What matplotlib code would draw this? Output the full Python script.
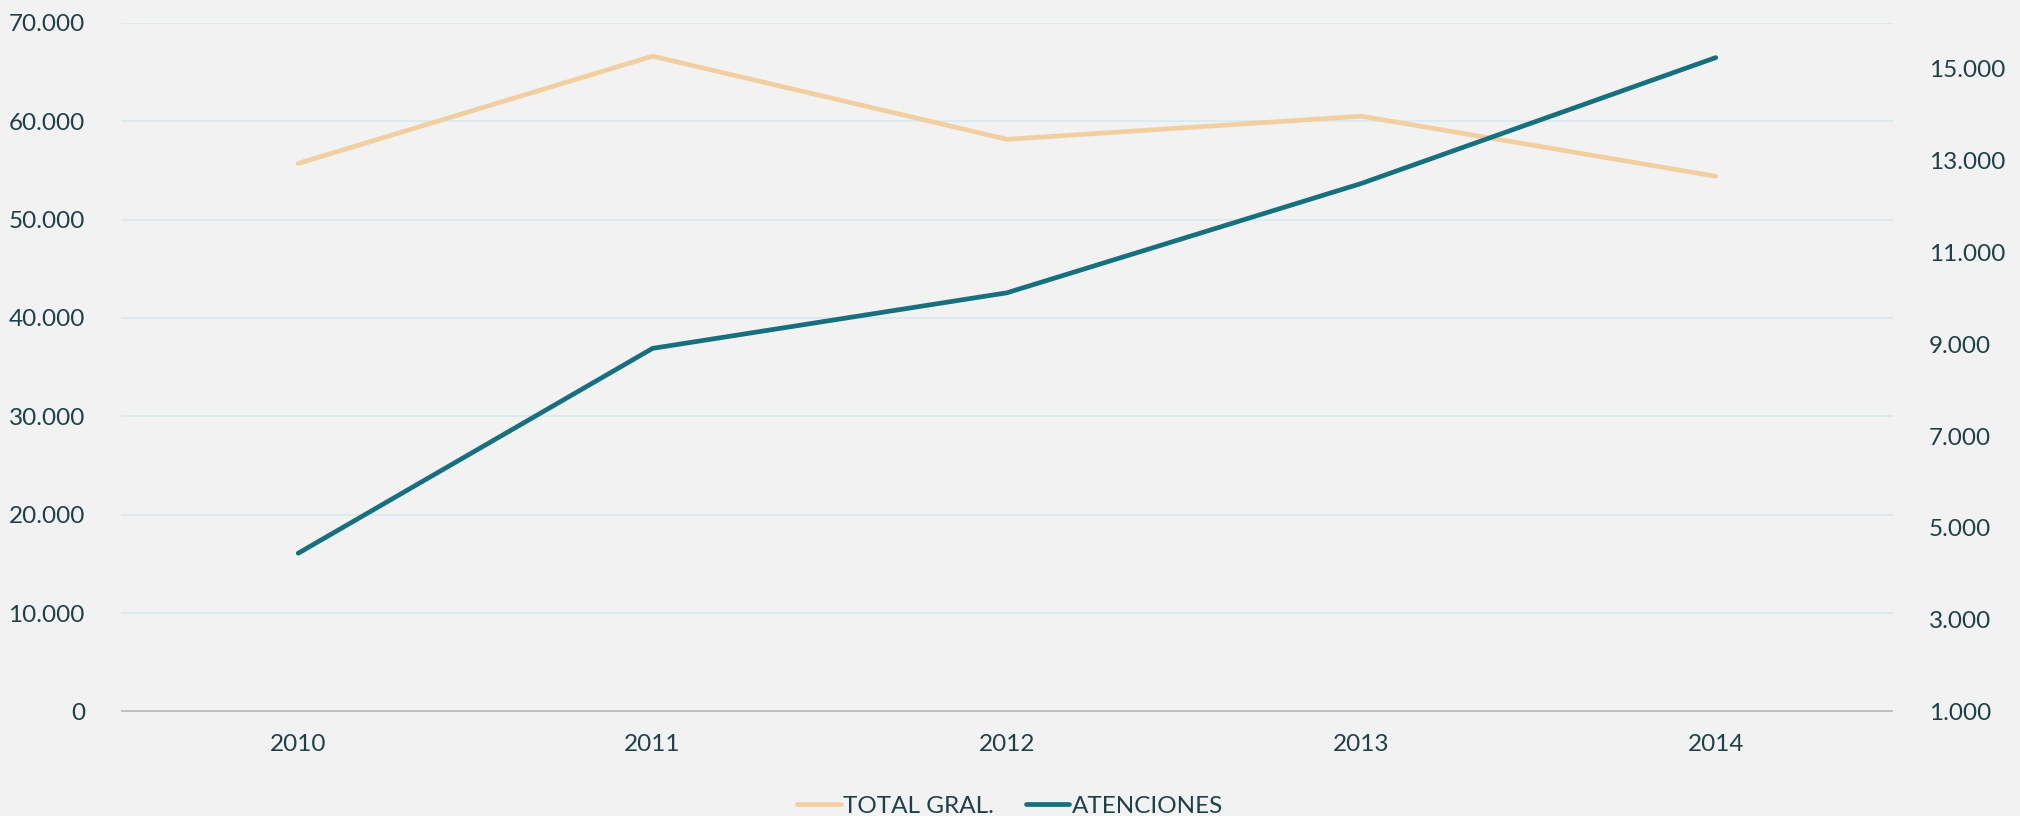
import matplotlib
matplotlib.use('Agg')
import matplotlib.pyplot as plt
from matplotlib.ticker import FuncFormatter

years = ["2010", "2011", "2012", "2013", "2014"]
total_gral = [55700, 66600, 58150, 60500, 54400]
atenciones = [4450, 8910, 10120, 12500, 15240]

left_ticks = [0, 10000, 20000, 30000, 40000, 50000, 60000, 70000]
right_ticks = [1000, 3000, 5000, 7000, 9000, 11000, 13000, 15000]

BG = "#F2F2F2"
TEXT = "#1E4048"
TAN = "#F2CFA0"
TEAL = "#16707E"
GRID = "#DCEAF0"

plt.rcParams['font.family'] = ['Lato', 'DejaVu Sans']


def dotted(v, pos=None):
    return f"{v:,.0f}".replace(",", ".")


fig = plt.figure(figsize=(20.2, 8.16), dpi=100, facecolor=BG)
ax = fig.add_axes([0.0599, 0.1278, 0.8772, 0.8444])
ax.set_facecolor(BG)
ax2 = ax.twinx()

x = list(range(len(years)))
l1, = ax.plot(x, total_gral, color=TAN, linewidth=3.4, solid_capstyle="round",
              solid_joinstyle="miter", label="TOTAL GRAL.", zorder=3)
l2, = ax2.plot(x, atenciones, color=TEAL, linewidth=3.4, solid_capstyle="round",
               solid_joinstyle="miter", label="ATENCIONES", zorder=3)

ax.set_xlim(-0.5, len(years) - 0.5)
ax.set_ylim(0, 70000)
ax2.set_ylim(1000, 16000)
ax.set_yticks(left_ticks)
ax2.set_yticks(right_ticks)
ax.yaxis.set_major_formatter(FuncFormatter(dotted))
ax2.yaxis.set_major_formatter(FuncFormatter(dotted))
ax.set_xticks(x)
ax.set_xticklabels(years)

ax.grid(True, axis="y", color=GRID, linewidth=1.4, zorder=0)
ax.set_axisbelow(True)

for a in (ax, ax2):
    for s in ("top", "left", "right", "bottom"):
        a.spines[s].set_visible(False)
    a.tick_params(length=0, labelsize=17.5, labelcolor=TEXT)
ax.axhline(0, color="#BFBFBF", linewidth=2.8, zorder=2)
ax.tick_params(axis="y", pad=26)
ax2.tick_params(axis="y", pad=26)
ax.tick_params(axis="x", pad=16)

fig.legend(handles=[l1, l2], loc="lower center", bbox_to_anchor=(0.5, -0.028),
           ncol=2, frameon=False, fontsize=17.5, labelcolor=TEXT,
           handlelength=1.8, handletextpad=0.1, columnspacing=1.3)

fig.savefig("out.png", dpi=100, facecolor=BG)
